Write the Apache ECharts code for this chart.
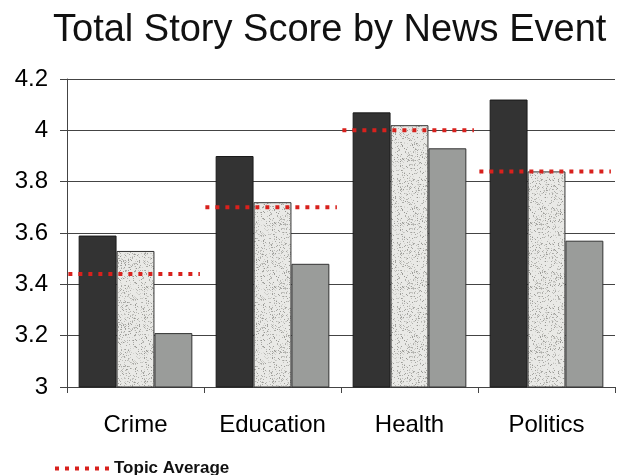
<!DOCTYPE html>
<html><head><meta charset="utf-8">
<script src="https://cdn.jsdelivr.net/npm/echarts@6/dist/echarts.min.js"></script>
<style>html,body{margin:0;padding:0;background:#fff}#c{width:626px;height:475px}</style>
</head><body><div id="c"></div>
<script>
const categories = ['Crime', 'Education', 'Health', 'Politics'];
const seriesDark = [3.59, 3.90, 4.07, 4.12];
const seriesSpeckled = [3.53, 3.72, 4.02, 3.84];
const seriesGray = [3.21, 3.48, 3.93, 3.57];
const topicAverage = [3.44, 3.70, 4.00, 3.84];
const yTickLabels = ['3', '3.2', '3.4', '3.6', '3.8', '4', '4.2'];

// speckled texture
function makeSpeckle() {
  const cv = document.createElement('canvas');
  cv.width = 64; cv.height = 64;
  const ctx = cv.getContext('2d');
  ctx.fillStyle = '#e9e9e6';
  ctx.fillRect(0, 0, 64, 64);
  let s = 12345;
  function r() { s = (s * 1103515245 + 12345) & 0x7fffffff; return s / 0x7fffffff; }
  for (let i = 0; i < 900; i++) {
    const g = Math.floor(150 + r() * 70);
    ctx.fillStyle = 'rgb(' + g + ',' + g + ',' + (g - 4) + ')';
    ctx.fillRect(Math.floor(r() * 64), Math.floor(r() * 64), 1, 1);
  }
  return cv;
}

const chart = echarts.init(document.getElementById('c'), null, {renderer: 'canvas'});
const font = '"Liberation Sans", Arial, sans-serif';
const dotPath = 'path://M0,0h4v4h-4z M10,0h4v4h-4z M20,0h4v4h-4z M30,0h4v4h-4z M40,0h4v4h-4z M50,0h4v4h-4z';

chart.setOption({
  animation: false,
  backgroundColor: '#fff',
  title: {
    text: 'Total Story Score by News Event',
    left: 48, top: 7,
    textStyle: {fontFamily: font, fontSize: 38, fontWeight: 'normal', color: '#111'}
  },
  legend: {
    left: 50, top: 455,
    itemWidth: 54, itemHeight: 4, itemGap: 6,
    data: [{name: 'Topic Average', icon: dotPath, itemStyle: {color: '#d8211d'}}],
    textStyle: {fontFamily: font, fontSize: 17, fontWeight: 'bold', color: '#111'}
  },
  grid: {left: 67, right: 11, top: 79, bottom: 88},
  xAxis: {
    type: 'category', data: categories,
    axisLine: {lineStyle: {color: '#444', width: 1}},
    axisTick: {show: true, length: 6, lineStyle: {color: '#444'}},
    axisLabel: {fontFamily: font, fontSize: 24, color: '#000', margin: 26, interval: 0}
  },
  yAxis: {
    type: 'value', min: 3, max: 4.2, interval: 0.2,
    axisLine: {show: true, lineStyle: {color: '#444', width: 1}},
    axisTick: {show: true, inside: false, length: 7, lineStyle: {color: '#444'}},
    splitLine: {show: true, lineStyle: {color: '#444', width: 1}},
    axisLabel: {
      fontFamily: font, fontSize: 24, color: '#000', margin: 19,
      formatter: function (v) { return yTickLabels[Math.round((v - 3) / 0.2)]; }
    }
  },
  series: [
    {type: 'bar', name: 'A', data: seriesDark, barGap: '0%', barCategoryGap: '17%',
      itemStyle: {color: '#333333', borderColor: '#1a1a1a', borderWidth: 1}},
    {type: 'bar', name: 'B', data: seriesSpeckled, barGap: '0%', barCategoryGap: '17%',
      itemStyle: {color: {image: makeSpeckle(), repeat: 'repeat'}, borderColor: '#333', borderWidth: 1}},
    {type: 'bar', name: 'C', data: seriesGray, barGap: '0%', barCategoryGap: '17%',
      itemStyle: {color: '#9a9c9a', borderColor: '#333', borderWidth: 1}},
    {
      type: 'custom', name: 'Topic Average', clip: false, z: 10,
      data: topicAverage.map(function (v, i) { return [i, v]; }),
      itemStyle: {color: '#d8211d'},
      renderItem: function (params, api) {
        const c = api.coord([api.value(0), api.value(1)]);
        const w = api.size([1, 0])[0];
        return {
          type: 'line',
          shape: {x1: c[0] - w * 0.49, y1: c[1], x2: c[0] + w * 0.47, y2: c[1]},
          style: {stroke: '#d8211d', lineWidth: 4, lineDash: [4, 6]}
        };
      }
    }
  ]
});
</script></body></html>
